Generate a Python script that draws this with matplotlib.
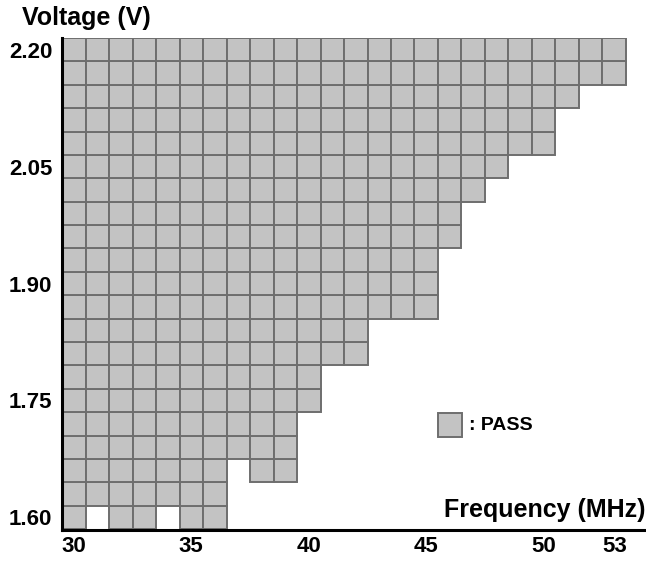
import matplotlib
matplotlib.use("Agg")
import matplotlib.pyplot as plt
from matplotlib.patches import Rectangle

# ---- data ----
frequencies = [30, 31, 32, 33, 34, 35, 36, 37, 38, 39, 40, 41,
               42, 43, 44, 45, 46, 47, 48, 49, 50, 51, 52, 53]
voltages = [1.60, 1.63, 1.66, 1.69, 1.72, 1.75, 1.78, 1.81, 1.84, 1.87, 1.90,
            1.93, 1.96, 1.99, 2.02, 2.05, 2.08, 2.11, 2.14, 2.17, 2.20]
# highest passing frequency at each voltage (bottom to top)
max_pass_freq = [36, 36, 39, 39, 39, 40, 40, 42, 42, 45, 45,
                 45, 46, 46, 47, 48, 50, 50, 51, 53, 53]
# failing cells below the pass boundary: (frequency, voltage)
fail_holes = [(31, 1.60), (34, 1.60), (37, 1.66)]
x_tick_labels = [30, 35, 40, 45, 50, 53]
y_tick_labels = [1.60, 1.75, 1.90, 2.05, 2.20]

FILL = "#c3c3c3"
EDGE = "#6e6e6e"
FONT = ["Liberation Sans", "DejaVu Sans"]
plt.rcParams["font.family"] = FONT
plt.rcParams["font.weight"] = "bold"

W, H = 646, 561
fig = plt.figure(figsize=(W / 100, H / 100), dpi=100)
ax_left, ax_bottom, ax_top = 62, 529.5, 38
ax = fig.add_axes([ax_left / W, (H - ax_bottom) / H, (W - ax_left) / W,
                   (ax_bottom - ax_top) / H])

step_v = 0.03
xs, bottoms = [], []
for v, fmax in zip(voltages, max_pass_freq):
    for f in frequencies:
        if f <= fmax and (f, v) not in fail_holes:
            xs.append(f)
            bottoms.append(v - step_v / 2)
ax.bar(xs, [step_v] * len(xs), bottom=bottoms, width=1.0, color=FILL,
       edgecolor=EDGE, linewidth=1.4, zorder=2)

ax.set_xlim(29.5, 29.5 + (W - ax_left) / 23.5)
ax.set_ylim(voltages[0] - step_v / 2 - 0.0005, voltages[-1] + step_v / 2)

for s in ["top", "right"]:
    ax.spines[s].set_visible(False)
for s in ["left", "bottom"]:
    ax.spines[s].set_linewidth(2.2)
    ax.spines[s].set_color("black")
    ax.spines[s].set_zorder(3)

ax.set_xticks(x_tick_labels)
ax.set_xticklabels([str(t) for t in x_tick_labels])
ax.set_yticks(y_tick_labels)
ax.set_yticklabels([f"{t:.2f}" for t in y_tick_labels])
ax.tick_params(axis="both", length=0, labelsize=16)
ax.tick_params(axis="y", pad=7)
ax.tick_params(axis="x", pad=5)
for lab in ax.get_xticklabels() + ax.get_yticklabels():
    lab.set_fontweight("bold")

fig.text(22 / W, (H - 25) / H, "Voltage (V)", fontsize=18,
         fontweight="bold", ha="left", va="baseline")
fig.text(645 / W, (H - 516.5) / H, "Frequency (MHz)", fontsize=18,
         fontweight="bold", ha="right", va="baseline")

# legend
fig.patches.append(Rectangle((437.5 / W, (H - 437) / H), 24.5 / W, 24.5 / H,
                             transform=fig.transFigure, facecolor=FILL,
                             edgecolor=EDGE, linewidth=1.4))
fig.text(469 / W, (H - 430.5) / H, ": PASS", fontsize=14,
         fontweight="bold", ha="left", va="baseline")

fig.savefig("out.png", dpi=100)
